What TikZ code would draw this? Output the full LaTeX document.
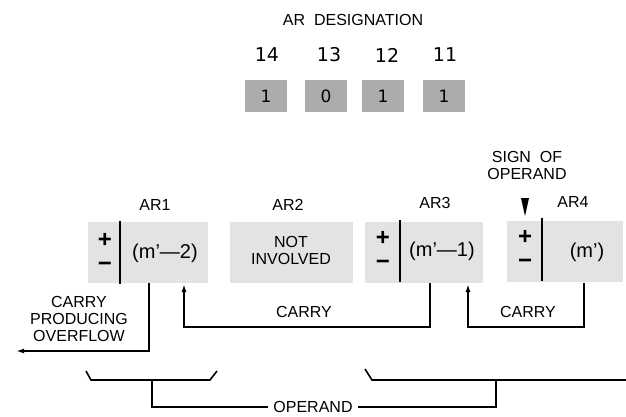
\documentclass[tikz,border=0pt]{standalone}
\usepackage{fontspec}
\setmainfont{Liberation Sans}
\newfontfamily\digitfont{DejaVu Sans}
\usetikzlibrary{arrows.meta}
\begin{document}
\begin{tikzpicture}[x=1pt,y=-1pt,
  lbl/.style={font=\fontsize{16}{17}\selectfont, align=center, inner sep=0pt},
  reg/.style={fill=gray!22, minimum height=61pt, inner sep=0pt},
  des/.style={fill=gray!65, minimum width=42pt, minimum height=32pt, inner sep=0pt, font=\digitfont\fontsize{17}{17}\selectfont},
  num/.style={font=\digitfont\fontsize{19}{19}\selectfont, inner sep=0pt},
  sgn/.style={font=\bfseries\fontsize{24}{24}\selectfont, inner sep=0pt},
  val/.style={font=\fontsize{20}{20}\selectfont, inner sep=0pt},
  wire/.style={line width=1.6pt},
  arr/.style={wire, -{Latex[length=8pt,width=5pt]}},
  regbar/.style={line width=2pt}
]
\useasboundingbox (0,0) rectangle (626,416);

% designation
\node[lbl] (title) at (353,20) {AR\ \ DESIGNATION};
\node[num] (n14) at (267,55) {14};
\node[num] (n13) at (329,55) {13};
\node[num] (n12) at (387,55) {12};
\node[num] (n11) at (445,55) {11};
\node[des] (b14) at (266,96) {1};
\node[des] (b13) at (326,96) {0};
\node[des] (b12) at (383,96) {1};
\node[des] (b11) at (444,96) {1};

% registers
\node[reg, minimum width=120pt] (ar1) at (148,252.5) {};
\node[reg, minimum width=123pt] (ar2) at (291.5,252.5) {};
\node[reg, minimum width=118pt] (ar3) at (424,252.5) {};
\node[reg, minimum width=116pt] (ar4) at (565,251) {};

\draw[regbar] (120,221) -- (120,284);
\draw[regbar] (400,220) -- (400,282);
\draw[regbar] (542,218) -- (542,281);

\node[sgn] (p1) at (105,240) {+};
\node[sgn] (m1) at (105,267) {−};
\node[val] (v1) at (165,253) {(m’—2)};
\node[lbl] (ni) at (291,250) {NOT\\INVOLVED};
\node[sgn] (p3) at (383,238) {+};
\node[sgn] (m3) at (383,265) {−};
\node[val] (v3) at (442,251) {(m’—1)};
\node[sgn] (p4) at (525,237) {+};
\node[sgn] (m4) at (525,264) {−};
\node[val] (v4) at (587,252) {(m’)};

\node[lbl] (l1) at (155,205) {AR1};
\node[lbl] (l2) at (288,205) {AR2};
\node[lbl] (l3) at (435,203) {AR3};
\node[lbl] (l4) at (573,202) {AR4};
\node[lbl] (sign) at (527,165) {SIGN\ \ OF\\OPERAND};
\fill (521,198) -- (529,198) -- (525,216) -- cycle;

% carries
\coordinate (o1) at (149,283);
\coordinate (o2) at (16,351);
\draw[arr] (o1) |- (o2);
\node[lbl] (ovf) at (79,319) {CARRY\\PRODUCING\\OVERFLOW};

\coordinate (c1s) at (430,283);
\coordinate (c1e) at (184,284);
\draw[arr] (c1s) -- ++(0,44) -| (c1e);
\node[lbl] (cl1) at (304,312) {CARRY};

\coordinate (c2s) at (584,283);
\coordinate (c2e) at (468,284);
\draw[arr] (c2s) -- ++(0,44) -| (c2e);
\node[lbl] (cl2) at (528,312) {CARRY};

% operand brackets
\draw[wire] (86,371) -- (91,380) -- (210,380) -- (217,371);
\draw[wire] (365,369) -- (372,380) -- (626,380);
\node[lbl, font=\fontsize{16}{16}\selectfont, inner xsep=5pt] (op) at (313,407) {OPERAND};
\draw[wire] (152,380) |- (op.west);
\draw[wire] (496,380) |- (op.east);
\end{tikzpicture}
\end{document}
